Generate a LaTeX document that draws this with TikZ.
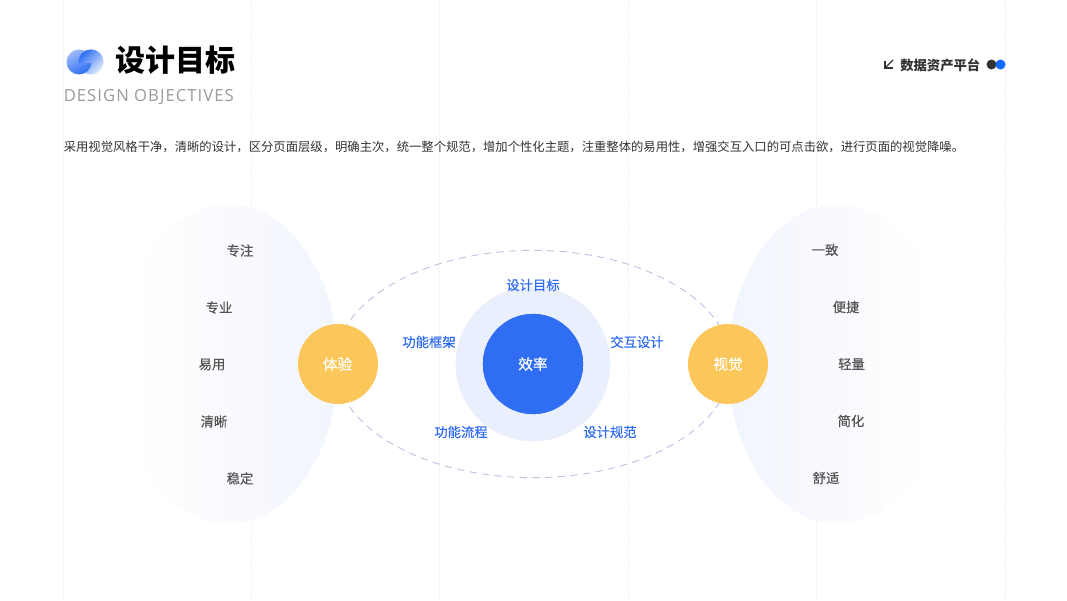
\documentclass[tikz,border=0pt]{standalone}
\usepackage{fontspec}
\setmainfont{Noto Sans CJK SC}
\newfontfamily\medcjk[FakeBold=0.35]{Noto Sans CJK SC}
\newfontfamily\latinsub[LetterSpace=6.2]{Open Sans}
\usetikzlibrary{shapes.geometric}
\definecolor{bluetxt}{HTML}{2F6CF2}
\definecolor{bluedeep}{HTML}{2F6DF3}
\definecolor{halo}{HTML}{E9EFFD}
\definecolor{amber}{HTML}{FBC75B}
\definecolor{blob}{HTML}{F1F5FD}
\definecolor{blobmid}{HTML}{F9FAFE}
\definecolor{txtgrey}{HTML}{555555}
\definecolor{gridc}{HTML}{EDEDF1}
\definecolor{dashc}{HTML}{BFC2E6}
\definecolor{brandblue}{HTML}{0F6BFF}
\definecolor{markdark}{HTML}{333333}
\definecolor{subgrey}{HTML}{9A9A9A}
\definecolor{logodeep}{HTML}{2D6CF3}
\definecolor{logomid}{HTML}{9DBBF9}
\definecolor{logopale}{HTML}{E3ECFD}
\pgfdeclarehorizontalshading{blobleft}{100bp}{color(0bp)=(white); color(28bp)=(white); color(50bp)=(blobmid); color(75bp)=(blob); color(100bp)=(blob)}
\pgfdeclarehorizontalshading{blobright}{100bp}{color(0bp)=(blob); color(25bp)=(blob); color(50bp)=(blobmid); color(71bp)=(white); color(100bp)=(white)}
\tikzset{
  keyword/.style={text=txtgrey,font=\medcjk\fontsize{10}{12}\selectfont,inner sep=0pt},
  bluelabel/.style={text=bluetxt,font=\medcjk\fontsize{10}{12}\selectfont,inner sep=0pt},
  orangeball/.style={circle,fill=amber,draw=none,minimum size=60pt,inner sep=0pt,text=white,font=\medcjk\fontsize{11}{12}\selectfont},
  guide/.style={gridc,line width=0.4pt,densely dotted},
}
\begin{document}
\begin{tikzpicture}[x=0.75pt,y=-0.75pt]
\useasboundingbox (0,0) rectangle (1067,600);
\fill[white] (0,0) rectangle (1067,600);
% guides
\foreach \gx in {63,251,439,628,816,1005}{\draw[guide] (\gx,0) -- (\gx,600);}
% blobs
\shade[shading=blobleft] (228,364) ellipse [x radius=110,y radius=160];
\shade[shading=blobright] (838,364) ellipse [x radius=110,y radius=160];
% dashed orbit
\node (orbit) at (533,364) [ellipse,draw=dashc,line width=0.7pt,dash pattern=on 5.5pt off 4pt,minimum width=297pt,minimum height=170.5pt,inner sep=0pt] {};
% centre
\node (halo) at (533,364) [circle,fill=halo,minimum size=116pt,inner sep=0pt] {};
\node (eff) at (533,364) [circle,fill=bluedeep,draw=white,line width=0.4pt,minimum size=76pt,inner sep=0pt,text=white,font=\medcjk\fontsize{11}{12}\selectfont] {\raisebox{-1.2pt}{效率}};
\node (ty) at (338,364) [orangeball] {\raisebox{-1.2pt}{\hspace{-0.7pt}体验}};
\node (sj) at (728,364) [orangeball] {\raisebox{-1.2pt}{视觉}};
% blue labels
\node[bluelabel] (l1) at (533,285) {设计目标};
\node[bluelabel] (l2) at (429,342) {功能框架};
\node[bluelabel] (l3) at (637,342) {交互设计};
\node[bluelabel] (l4) at (461,432) {功能流程};
\node[bluelabel] (l5) at (610,432) {设计规范};
% left words
\node[keyword] (a1) at (240,250.5) {专注};
\node[keyword] (a2) at (219,307.5) {专业};
\node[keyword] (a3) at (212,364.5) {易用};
\node[keyword] (a4) at (214,421.5) {清晰};
\node[keyword] (a5) at (240,478.5) {稳定};
% right words
\node[keyword] (b1) at (825,250) {一致};
\node[keyword] (b2) at (846,307) {便捷};
\node[keyword] (b3) at (851.5,364) {轻量};
\node[keyword] (b4) at (851,421) {简化};
\node[keyword] (b5) at (826,478) {舒适};
% header
\node[anchor=west,inner sep=0pt,font=\fontsize{22.5}{26}\selectfont\bfseries,text=black] (title) at (115.5,60.5) {设计目标};
\node[anchor=west,inner sep=0pt,font=\latinsub\fontsize{12.5}{14}\selectfont,text=subgrey] (sub) at (63.5,97.5) {DESIGN OBJECTIVES};
\node[anchor=west,inner sep=0pt,font=\fontsize{9.25}{12}\selectfont,text=black!80] (desc) at (63.5,146.5) {采用视觉风格干净，清晰的设计，区分页面层级，明确主次，统一整个规范，增加个性化主题，注重整体的易用性，增强交互入口的可点击欲，进行页面的视觉降噪。};
\node[anchor=west,inner sep=0pt,font=\fontsize{10}{12}\selectfont\bfseries,text=markdark] (plat) at (900,65) {数据资产平台};
% logo
\shade[top color=logodeep,bottom color=logopale,shading angle=45] (91,62) circle (12.5);
\shade[top color=logomid,bottom color=logodeep,shading angle=30] (79,62) circle (12.5);
\begin{scope}
\clip (78,49) rectangle (104,62);
\shade[top color=logodeep,bottom color=logopale,shading angle=45] (91,62) circle (12.5);
\end{scope}
% top-right marks
\fill[markdark] (991.5,64.5) circle (5);
\fill[brandblue] (1000.5,64.5) circle (5);
\coordinate (arrowtail) at (893,60);
\coordinate (arrowhead) at (885,68);
\draw[markdark,line width=1pt] (arrowtail) -- (arrowhead);
\draw[markdark,line width=1pt] (885,60.5) -- (arrowhead) -- (892.5,68);
\end{tikzpicture}
\end{document}
